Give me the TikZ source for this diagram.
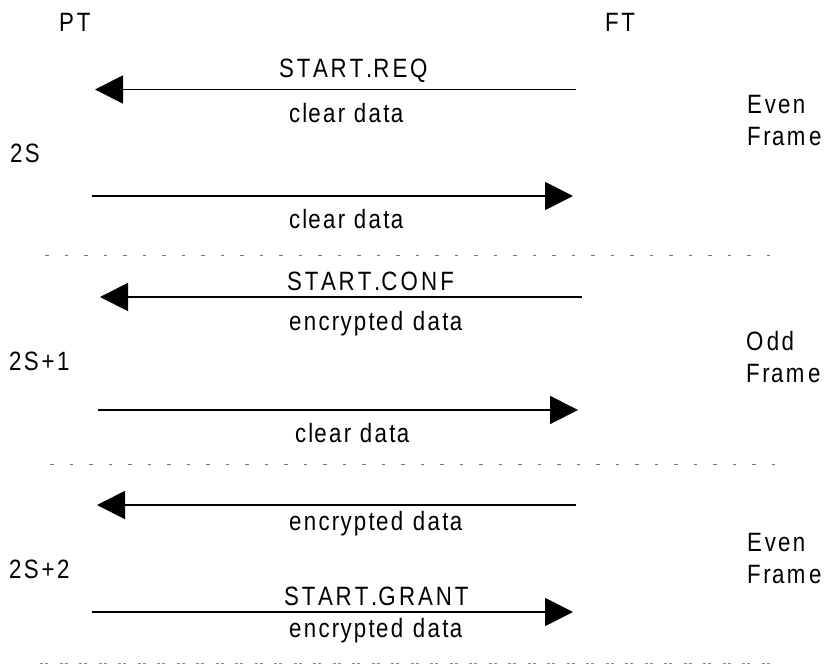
\documentclass[tikz,border=0pt]{standalone}
\usepackage{fontspec}
\setmainfont{Liberation Sans}
\newfontfamily\narrowf{Liberation Sans}[FakeStretch=0.84]
\usetikzlibrary{arrows.meta}
% each glyph drawn condensed inside the advance width of the normal glyph
\newlength\cwlen
\newcommand\cchar[1]{\settowidth\cwlen{#1}\makebox[\cwlen][l]{\narrowf #1}}
\def\cw#1{\cwloop#1\relax}
\def\cwloop#1{\ifx\relax#1\else\cchar{#1}\expandafter\cwloop\fi}
\begin{document}
\begin{tikzpicture}[x=1pt,y=-1pt,
  lbl/.style={inner sep=0pt,anchor=base west,font=\fontsize{26.5}{29}\selectfont},
  msg/.style={line width=1.8pt,-{Triangle[length=28pt,width=28pt]}},
  sep/.style={line width=1pt,black!55,dash pattern=on 3.5pt off 16pt},
  sepdense/.style={line width=1pt,black!45,dash pattern=on 3pt off 2pt on 3pt off 11.5pt}]
\useasboundingbox (0,0) rectangle (824,667);
% headers
\node[lbl] (pt) at (59,31) {\cw{PT}};
\node[lbl] (ft) at (605,31) {\cw{FT}};
% slot labels
\node[lbl] (s0) at (10,162) {\cw{2S}};
\node[lbl] (s1) at (9,370) {\cw{2S+1}};
\node[lbl] (s2) at (9,578) {\cw{2S+2}};
% frame labels
\node[lbl] (e1a) at (747,113) {\cw{Even}};
\node[lbl] (e1b) at (747,145) {\cw{Frame}};
\node[lbl] (o1a) at (746,350) {\cw{Odd}};
\node[lbl] (o1b) at (746,382) {\cw{Frame}};
\node[lbl] (e2a) at (747,551) {\cw{Even}};
\node[lbl] (e2b) at (747,583) {\cw{Frame}};
% arrows
\coordinate (a1s) at (576,89.5); \coordinate (a1e) at (95,89.5);
\coordinate (a2s) at (92,196);   \coordinate (a2e) at (573,196);
\coordinate (a3s) at (582,297);  \coordinate (a3e) at (100,297);
\coordinate (a4s) at (98,410);   \coordinate (a4e) at (578,410);
\coordinate (a5s) at (576,505);  \coordinate (a5e) at (97,505);
\coordinate (a6s) at (92,612);   \coordinate (a6e) at (573,612);
\draw[msg] (a1s) -- (a1e);
\draw[msg] (a2s) -- (a2e);
\draw[msg] (a3s) -- (a3e);
\draw[msg] (a4s) -- (a4e);
\draw[msg] (a5s) -- (a5e);
\draw[msg] (a6s) -- (a6e);
% message labels
\node[lbl] (m1) at (279,77) {\cw{START.REQ}};
\node[lbl] (d1) at (289,122) {\cw{clear}\ \cw{data}};
\node[lbl] (d2) at (289,228) {\cw{clear}\ \cw{data}};
\node[lbl] (m3) at (287,290) {\cw{START.CONF}};
\node[lbl] (d3) at (289,330) {\cw{encrypted}\ \cw{data}};
\node[lbl] (d4) at (295,442) {\cw{clear}\ \cw{data}};
\node[lbl] (d5) at (289,530) {\cw{encrypted}\ \cw{data}};
\node[lbl] (m6) at (284,605) {\cw{START.GRANT}};
\node[lbl] (d6) at (289,637) {\cw{encrypted}\ \cw{data}};
% separators
\coordinate (l1s) at (45,255);  \coordinate (l1e) at (778,255);
\coordinate (l2s) at (50,464);  \coordinate (l2e) at (782,464);
\coordinate (l3s) at (40,663);  \coordinate (l3e) at (775,663);
\draw[sep] (l1s) -- (l1e);
\draw[sep] (l2s) -- (l2e);
\draw[sepdense] (l3s) -- (l3e);
\end{tikzpicture}
\end{document}
